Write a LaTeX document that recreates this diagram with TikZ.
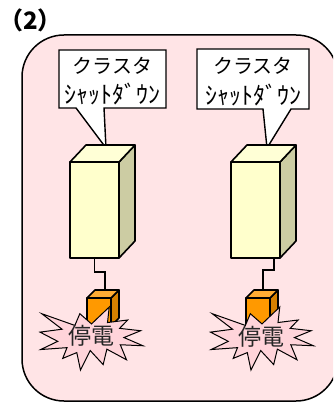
\documentclass[tikz,border=0pt]{standalone}
\usepackage{fontspec}
\newfontfamily\jp{Noto Sans CJK JP}
\usetikzlibrary{calc}

\definecolor{panelpink}{RGB}{255,228,230}
\definecolor{cubefront}{RGB}{255,255,204}
\definecolor{cubetop}{RGB}{255,255,214}
\definecolor{cubeside}{RGB}{204,204,163}
\definecolor{boxfront}{RGB}{255,153,0}
\definecolor{boxtop}{RGB}{255,172,52}
\definecolor{boxside}{RGB}{214,128,0}
\definecolor{burstpink}{RGB}{255,212,218}

\begin{document}
\begin{tikzpicture}[x=1pt,y=-1pt,
  panel/.style={draw=black, line width=1.5pt, fill=panelpink, rounded corners=42pt},
  callout/.style={draw=black, line width=1.4pt, fill=white, line join=miter},
  edge/.style={draw=black, line width=1.6pt, line join=round},
  wire/.style={draw=black, line width=1.4pt},
  burst/.style={draw=black, line width=1pt, fill=burstpink, line join=miter},
  bigtext/.style={font=\jp\fontsize{20}{24}\selectfont, inner sep=0pt},
  smalltext/.style={font=\jp\fontsize{24}{28}\selectfont, inner sep=0pt},
  bursttext/.style={font=\jp\fontsize{23}{26}\selectfont, inner sep=0pt, text=black!85},
  server/.pic={
    % tall box: front face 49 x 96, depth offset (16,-17)
    \filldraw[edge, fill=cubeside] (49,0) -- (65,-17) -- (65,79) -- (49,96) -- cycle;
    \filldraw[edge, fill=cubetop] (0,0) -- (16,-17) -- (65,-17) -- (49,0) -- cycle;
    \filldraw[edge, fill=cubefront] (0,0) rectangle (49,96);
  },
  plug/.pic={
    % small orange box: front face 24 x 28, depth offset (8,-8)
    \filldraw[edge, fill=boxside] (24,0) -- (32,-8) -- (32,20) -- (24,28) -- cycle;
    \filldraw[edge, fill=boxtop] (0,0) -- (8,-8) -- (32,-8) -- (24,0) -- cycle;
    \filldraw[edge, fill=boxfront] (0,0) rectangle (24,28);
  },
  explosion/.pic={
    % irregular burst in a 100 x 100 frame, scaled to 103 x 63
    \begin{scope}[xscale=1.03, yscale=0.63]
    \filldraw[burst] (50,26.85) -- (67.23,0) -- (65.53,24.65) -- (85.09,20.63)
      -- (77.32,33.87) -- (97.67,37.67) -- (81.51,48.50) -- (100,61.53)
      -- (77.95,59.92) -- (84.00,83.77) -- (64.91,66.93) -- (61.33,91.38)
      -- (48.76,69.14) -- (39.28,100) -- (35.72,72.35) -- (22.05,81.56)
      -- (26.24,64.52) -- (0.63,67.53) -- (17.23,54.51) -- (0,39.88)
      -- (21.42,35.26) -- (1.71,10.63) -- (33.85,29.26) -- (38.67,10.63) -- cycle;
    \end{scope}
  }
]
\useasboundingbox (0,0) rectangle (333,403);
\clip (0,0) rectangle (333,403);

% title
\node[font=\jp\bfseries\fontsize{24}{28}\selectfont, inner sep=0pt, anchor=west] (title) at (-1,20.5) {（2）};

% pink panel
\draw[panel] (22,35) rectangle (338,401);

% callouts
\draw[callout] (59,50) -- (166,50) -- (166,108) -- (104,108) -- (106,148)
  -- (76,108) -- (59,108) -- cycle;
\node[bigtext] (c1top) at (112.5,66) {クラスタ};
\node[smalltext] (c1bot) at (112.5,94) {ｼｬｯﾄﾀﾞｳﾝ};

\draw[callout] (197,49) -- (309,49) -- (309,109) -- (291,109) -- (267,148)
  -- (263,109) -- (197,109) -- cycle;
\node[bigtext] (c2top) at (253,66) {クラスタ};
\node[smalltext] (c2bot) at (253,95) {ｼｬｯﾄﾀﾞｳﾝ};

% servers
\pic at (70,162) {server};
\pic at (231,162) {server};

% cable anchor points
\coordinate (s1) at (94.5,258);
\coordinate (p1) at (105,293);
\coordinate (s2) at (274,258);
\coordinate (p2) at (263,293);

\draw[wire] (s1) -- ++(0,14) -| (p1);
\draw[wire] (s2) -- ++(0,12) -| (p2);

% power boxes
\pic at (87,298) {plug};
\pic at (246,298) {plug};

% outage bursts
\pic at (40,307) {explosion};
\pic at (210.5,307) {explosion};
\node[bursttext] (o1) at (91.5,336) {停電};
\node[bursttext] (o2) at (261,336.5) {停電};
\end{tikzpicture}
\end{document}
